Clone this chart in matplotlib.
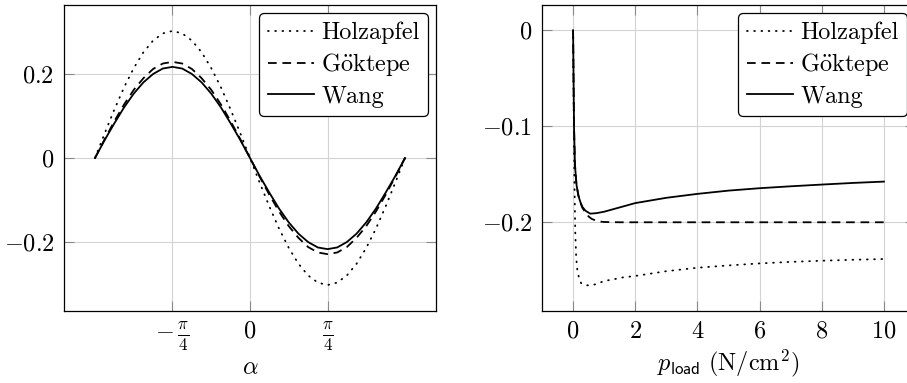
import numpy as np
import matplotlib
matplotlib.use('Agg')
import matplotlib.pyplot as plt
from matplotlib import rcParams

# Computer Modern look for all text
rcParams['font.family'] = 'serif'
rcParams['font.serif'] = ['cmr10']
rcParams['mathtext.fontset'] = 'cm'
rcParams['axes.formatter.use_mathtext'] = True
rcParams['font.size'] = 17.5

# shear stress over fibre angle alpha (sampled every pi/32)
alpha = np.pi / 32 * np.arange(-16, 17)
holz_alpha = [0, .059, .116, .169, .215, .253, .281, .298, .304,
              .298, .281, .253, .215, .169, .116, .059, 0,
              -.059, -.116, -.169, -.215, -.253, -.281, -.298, -.304,
              -.298, -.281, -.253, -.215, -.169, -.116, -.059, 0]
gok_alpha = [0, .045, .088, .128, .163, .191, .213, .226, .230,
             .226, .213, .191, .163, .128, .088, .045, 0,
             -.045, -.088, -.128, -.163, -.191, -.213, -.226, -.230,
             -.226, -.213, -.191, -.163, -.128, -.088, -.045, 0]
wang_alpha = [0, .043, .083, .121, .154, .181, .201, .214, .218,
              .214, .201, .181, .154, .121, .083, .043, 0,
              -.043, -.083, -.121, -.154, -.181, -.201, -.214, -.218,
              -.214, -.201, -.181, -.154, -.121, -.083, -.043, 0]

# response over load pressure
p_holz = [0, 0.02, 0.04, 0.07, 0.1, 0.14, 0.2, 0.26, 0.35, 0.45, 0.57,
          0.7, 0.85, 1.0, 1.3, 1.6, 2, 3, 4, 5, 6, 7, 8, 9, 10]
holz_p = [0, -0.08, -0.15, -0.21, -0.237, -0.251, -0.259, -0.2635, -0.2652,
          -0.2657, -0.2658, -0.2648, -0.2632, -0.2612, -0.2595, -0.2575,
          -0.256, -0.251, -0.2474, -0.245, -0.2429, -0.2413, -0.2401,
          -0.2391, -0.2383]
p_gok = [0, 0.03, 0.06, 0.11, 0.17, 0.23, 0.3, 0.4, 0.5, 0.6, 0.8, 1.0,
         1.5, 2, 4, 6, 8, 10]
gok_p = [0, -0.10, -0.14, -0.161, -0.172, -0.179, -0.185, -0.190, -0.194,
         -0.1965, -0.199, -0.1997, -0.2, -0.2, -0.2, -0.2, -0.2, -0.2]
p_wang = [0, 0.03, 0.06, 0.11, 0.17, 0.23, 0.3, 0.4, 0.55, 0.75, 1.0, 1.5,
          2, 3, 4, 5, 6, 7, 8, 9, 10]
wang_p = [0, -0.10, -0.14, -0.161, -0.172, -0.1785, -0.184, -0.188, -0.191,
          -0.1905, -0.189, -0.1845, -0.180, -0.1745, -0.1704, -0.167,
          -0.1645, -0.1625, -0.1607, -0.159, -0.1576]

labels = ['Holzapfel', r'G$\ddot{\mathrm{o}}$ktepe', 'Wang']

lw = 1.3
styles = [dict(ls=(0, (0.4, 3.6)), dash_capstyle='round'),
          dict(ls=(0, (4.8, 3.2))),
          dict(ls='-')]


def style_axes(ax):
    ax.grid(True, color='#d3d3d3', linewidth=0.8)
    ax.set_axisbelow(True)
    ax.tick_params(direction='in', length=7, width=0.8, color='#8a8a8a',
                   pad=7, top=True, right=True)
    for sp in ax.spines.values():
        sp.set_linewidth(0.9)


def add_legend(ax):
    ax.legend(loc='upper right', fancybox=True, edgecolor='black',
              framealpha=1, borderaxespad=0.33, handlelength=1.9,
              handletextpad=0.3, labelspacing=0.3, borderpad=0.35)
    ax.get_legend().get_frame().set_linewidth(0.9)


fig = plt.figure(figsize=(9.07, 3.83), dpi=100)
ax1 = fig.add_axes([64 / 907, 72 / 383, 372 / 907, 306 / 383])
ax2 = fig.add_axes([542 / 907, 72 / 383, 373 / 907, 306 / 383])

for ys, lab, st in zip([holz_alpha, gok_alpha, wang_alpha], labels, styles):
    ax1.plot(alpha, ys, color='black', lw=lw, label=lab, **st)
ax1.set_xlim(-0.6 * np.pi, 0.6 * np.pi)
ax1.set_ylim(-0.366, 0.366)
ax1.set_xticks([-np.pi / 4, 0, np.pi / 4])
ax1.set_xticklabels([r'$-\,\frac{\pi}{4}$', r'$0$', r'$\frac{\pi}{4}$'])
ax1.set_yticks([-0.2, 0, 0.2])
ax1.set_yticklabels([r'$-0.2$', r'$0$', r'$0.2$'])
ax1.set_xlabel(r'$\alpha$', labelpad=3)
style_axes(ax1)
add_legend(ax1)

for xs, ys, lab, st in zip([p_holz, p_gok, p_wang], [holz_p, gok_p, wang_p],
                           labels, styles):
    ax2.plot(xs, ys, color='black', lw=lw, label=lab, **st)
ax2.set_xlim(-1, 11)
ax2.set_ylim(-0.2925, 0.0265)
ax2.set_xticks([0, 2, 4, 6, 8, 10])
ax2.set_xticklabels([r'$%d$' % v for v in [0, 2, 4, 6, 8, 10]])
ax2.set_yticks([-0.2, -0.1, 0])
ax2.set_yticklabels([r'$-0.2$', r'$-0.1$', r'$0$'])
ax2.set_xlabel(r'$p_{\mathsf{load}}\ (\mathrm{N/cm^2})$', labelpad=3)
style_axes(ax2)
add_legend(ax2)

fig.savefig('out.png', dpi=100)
